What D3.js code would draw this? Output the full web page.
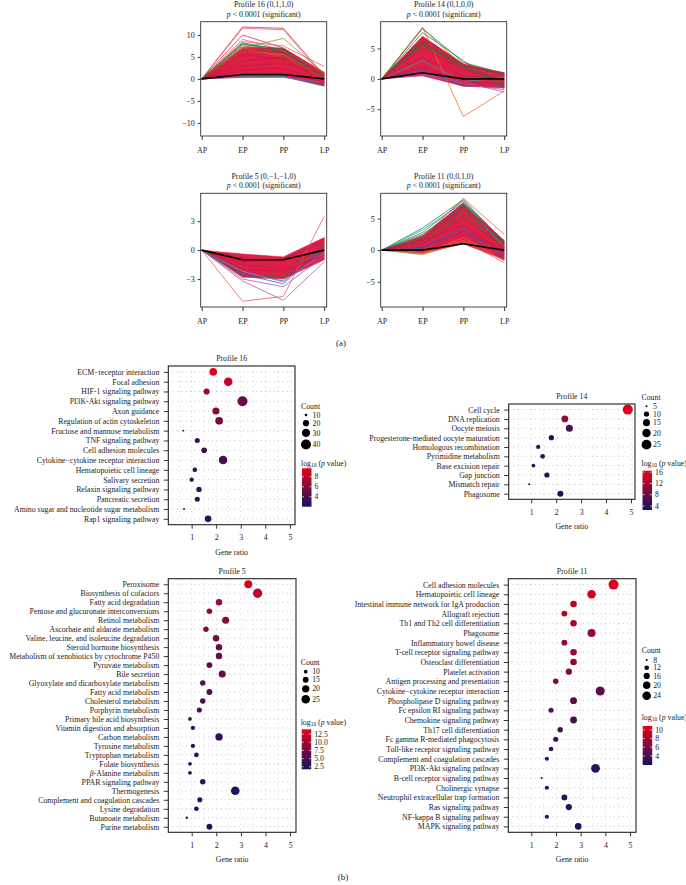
<!DOCTYPE html>
<html><head><meta charset="utf-8">
<script src="https://cdn.jsdelivr.net/npm/d3@7"></script>
<style>
body{margin:0;background:#fff}
svg{display:block}
text{font-family:"Liberation Serif","Times New Roman",serif;fill:#1a1a1a}
</style>
</head><body>
<svg id="c" width="686" height="885"></svg>
<script>
// ================= DATA =================
const stages = ["AP","EP","PP","LP"];

// ---- (a) expression profiles: red envelope, individual lines, model profile ----
const p16Upper = [0, 7.2, 7.0, 1.5];
const p16Lower = [0, 0.3, 0.5, -1.6];
const p16Mean  = [0, 1, 1, 0];
const p16Lines = [
  [0,11.8,11.5,0.8],[0,11.5,11.2,0.3],[0,10.0,7.0,1.2],[0,9.0,6.5,0.5],[0,8.5,7.5,2.8],
  [0,7.5,6.0,1.0],[0,7.0,9.2,1.2],[0,6.5,5.5,0.3],[0,8.2,6.5,0.5],[0,7.8,6.8,0.2],
  [0,8.0,6.0,-0.2],[0,7.0,5.0,0.0],[0,0.5,0.5,-1.7],[0,0.8,0.6,-1.4],[0,0.4,0.3,-0.8],
  [0,6.5,6.0,0.8],[0,5.5,4.5,-0.5],[0,4.0,5.0,0.3],[0,3.0,3.5,1.0],[0,2.0,2.5,-1.0]
];
const p16LineColors = ["red","pink","red","pink","pink","red","olive","olive","green","green",
  "green","brown","teal","blue","purple","red2","red2","red2","red2","red2"];

const p14Upper = [0, 7.0, 2.5, 1.0];
const p14Lower = [0, 0.5, -1.2, -1.5];
const p14Mean  = [0, 1, 0, 0];
const p14Lines = [
  [0,8.5,-6.2,-2.0],[0,8.3,2.7,0.8],[0,7.6,3.0,-1.6],[0,6.2,2.2,-1.2],[0,5.8,1.8,-0.5],
  [0,5.5,2.0,1.0],[0,8.3,2.0,0.5],[0,0.8,-0.5,-2.2],[0,0.6,-0.8,-1.8],[0,1.5,-1.2,-1.0],
  [0,3.0,-0.5,0.3],[0,6.8,2.3,0.5],[0,5.0,1.5,-0.2],[0,3.5,0.5,0.0],[0,2.0,-0.5,-0.8],[0,6.0,2.0,0.8]
];
const p14LineColors = ["orange","green","green","green","green","green","brown","purple","purple","blue",
  "teal","red2","red2","red2","red2","red2"];

const p5Upper = [0, -0.4, -0.7, 1.3];
const p5Lower = [0, -2.8, -3.0, -1.0];
const p5Mean  = [0, -1, -1, 0];
const p5Lines = [
  [0,-5.3,-4.8,3.5],[0,-3.2,-5.2,-1.2],[0,-2.5,-3.5,0.5],[0,-2.3,-3.2,0.0],[0,-3.0,-3.8,-0.6],
  [0,-2.6,-2.8,0.8],[0,-2.2,-3.3,-0.3],[0,-1.5,-2.0,0.5],[0,-0.8,-1.2,1.2],[0,-2.0,-2.2,-0.5],[0,-1.2,-0.9,0.9]
];
const p5LineColors = ["pink","purple","blue","blue","purple","green","lavender","red2","red2","red2","red2"];

const p11Upper = [0, 2.3, 7.5, 1.5];
const p11Lower = [0, -0.5, 1.0, -1.5];
const p11Mean  = [0, 0, 1, 0];
const p11Lines = [
  [0,2.0,8.2,2.5],[0,3.5,8.0,1.3],[0,2.8,7.8,1.0],[0,2.5,7.0,0.8],[0,2.0,6.3,1.2],
  [0,1.5,5.5,0.5],[0,3.2,7.5,0.5],[0,-0.3,1.5,-2.0],[0,-0.6,2.0,-1.7],[0,0.5,3.5,-1.2],
  [0,0.3,3.0,-0.9],[0,-0.7,1.2,0.0],[0,1.8,6.8,1.5],[0,1.0,5.0,0.5],[0,0.5,3.0,0.0],[0,1.5,4.0,-0.5]
];
const p11LineColors = ["pink","green","green","green","green","green","teal","orange","orange","blue",
  "blue","olive","red2","red2","red2","red2"];

// ---- (b) KEGG enrichment: pathway, gene ratio, count, log10(p value) ----
const p16Names = ["ECM\u2212receptor interaction","Focal adhesion","HIF-1 signaling pathway","PI3K-Akt signaling pathway",
  "Axon guidance","Regulation of actin cytoskeleton","Fructose and mannose metabolism","TNF signaling pathway",
  "Cell adhesion molecules","Cytokine\u2212cytokine receptor interaction","Hematopoietic cell lineage","Salivary secretion",
  "Relaxin signaling pathway","Pancreatic secretion","Amino sugar and nucleotide sugar metabolism","Rap1 signaling pathway"];
const p16Ratio = [1.88,2.49,1.61,3.07,1.99,2.12,0.66,1.23,1.51,2.28,1.13,1.00,1.30,1.23,0.69,1.67];
const p16Count = [26,31,20,40,24,27,9,16,18,31,15,14,17,16,9,22];
const p16LogP  = [9.5,8.6,7.0,5.0,6.0,5.6,3.0,3.4,3.5,3.9,3.3,3.0,3.1,3.0,2.6,2.9];

const p14Names = ["Cell cycle","DNA replication","Oocyte meiosis","Progesterone-mediated oocyte maturation",
  "Homologous recombination","Pyrimidine metabolism","Base excision repair","Gap junction","Mismatch repair","Phagosome"];
const p14Ratio = [4.87,2.35,2.53,1.81,1.28,1.46,1.09,1.63,0.92,2.17];
const p14Count = [26,14,15,10,8,9,7,10,5,12];
const p14LogP  = [16.2,11.5,6.0,4.0,3.8,3.6,3.5,3.4,3.2,3.0];

const p5Names = ["Peroxisome","Biosynthesis of cofactors","Fatty acid degradation","Pentose and glucuronate interconversions",
  "Retinol metabolism","Ascorbate and aldarate metabolism","Valine, leucine, and isoleucine degradation",
  "Steroid hormone biosynthesis","Metabolism of xenobiotics by cytochrome P450","Pyruvate metabolism","Bile secretion",
  "Glyoxylate and dicarboxylate metabolism","Fatty acid metabolism","Cholesterol metabolism","Porphyrin metabolism",
  "Primary bile acid biosynthesis","Vitamin digestion and absorption","Carbon metabolism","Tyrosine metabolism",
  "Tryptophan metabolism","Folate biosynthesis","\u03b2-Alanine metabolism","PPAR signaling pathway","Thermogenesis",
  "Complement and coagulation cascades","Lysine degradation","Butanoate metabolism","Purine metabolism"];
const p5Ratio = [3.30,3.68,2.11,1.72,2.38,1.58,1.99,2.11,2.11,1.72,2.24,1.45,1.72,1.45,1.31,
  0.93,1.05,2.11,1.05,1.19,0.93,0.93,1.45,2.77,1.33,1.19,0.80,1.72];
const p5Count = [22,28,17,14,19,14,17,17,17,15,19,14,15,14,13,10,11,20,11,12,10,10,14,25,13,12,8,15];
const p5LogP  = [13.2,11.5,10.3,9.0,8.4,8.2,7.3,6.8,6.6,6.2,6.0,5.6,5.5,5.0,4.6,3.8,3.6,3.5,3.2,3.1,3.0,3.0,
  2.6,2.5,2.5,2.4,2.3,2.3];

const p11Names = ["Cell adhesion molecules","Hematopoietic cell lineage","Intestinal immune network for IgA production",
  "Allograft rejection","Th1 and Th2 cell differentiation","Phagosome","Inflammatory bowel disease",
  "T-cell receptor signaling pathway","Osteoclast differentiation","Platelet activation","Antigen processing and presentation",
  "Cytokine\u2212cytokine receptor interaction","Phospholipase D signaling pathway","Fc epsilon RI signaling pathway",
  "Chemokine signaling pathway","Th17 cell differentiation","Fc gamma R-mediated phagocytosis",
  "Toll-like receptor signaling pathway","Complement and coagulation cascades","PI3K-Akt signaling pathway",
  "B-cell receptor signaling pathway","Cholinergic synapse","Neutrophil extracellular trap formation",
  "Ras signaling pathway","NF-kappa B signaling pathway","MAPK signaling pathway"];
const p11Ratio = [4.33,3.44,2.71,2.34,2.71,3.44,2.34,2.71,2.71,2.52,1.99,3.79,2.71,1.80,2.71,2.17,1.99,1.80,
  1.63,3.60,1.42,1.63,2.34,2.52,1.63,2.90];
const p11Count = [30,24,17,15,17,22,15,17,17,16,14,26,18,13,18,14,13,12,11,25,8,11,15,16,11,17];
const p11LogP  = [10.6,10.0,9.0,8.6,8.2,7.6,7.5,7.4,7.1,6.6,6.0,5.0,4.7,4.5,4.1,4.0,3.6,3.5,3.1,3.0,3.0,3.0,
  2.9,2.6,2.6,2.5];

// ================= DRAWING =================
const palette = {red:"#e8203f", pink:"#f0506e", red2:"#c8173e", olive:"#9a8a1e", green:"#1f7a3a",
  brown:"#b06a2a", teal:"#2aa3a0", blue:"#2f5fb5", purple:"#9a56b0", orange:"#e86a30", lavender:"#8f86d0"};
const BAND = "#de2049";
const LOW = "#131363", HIGH = "#e8001a";
const TXT = "#1a1a1a";
const FS = 7.8;
const svg = d3.select("#c");
const defs = svg.append("defs");
const fmtMinus = d => d < 0 ? "\u2212" + Math.abs(d) : String(d);

function styleAxis(a, size){
  a.attr("font-family", null).attr("font-size", null);
  a.select(".domain").remove();
  a.selectAll("line").attr("stroke", "#333");
  a.selectAll("text").attr("font-size", size).attr("fill", TXT);
}

function lineChart(c){
  const g = svg.append("g");
  const x = d3.scalePoint().domain(stages).range([c.x0 + 1, c.x1 - 2.5]);
  const y = d3.scaleLinear().domain(c.yDomain).range([c.y1, c.y0]);
  const cx = (c.x0 + c.x1) / 2;
  g.append("text").attr("x", cx).attr("y", c.y0 - 14.5).attr("text-anchor","middle")
    .attr("font-size", FS).text(c.title);
  const t = g.append("text").attr("x", cx).attr("y", c.y0 - 5.2).attr("text-anchor","middle").attr("font-size", FS);
  t.append("tspan").attr("font-style","italic").text("p");
  t.append("tspan").text(" < 0.0001 (significant)");

  const clipId = "clip" + c.id;
  defs.append("clipPath").attr("id", clipId).append("rect")
    .attr("x", c.x0).attr("y", c.y0).attr("width", c.x1 - c.x0).attr("height", c.y1 - c.y0);
  const pg = g.append("g").attr("clip-path", `url(#${clipId})`);
  const area = d3.area().x((d,i) => x(stages[i])).y0((d,i) => y(c.lower[i])).y1(d => y(d));
  pg.append("path").datum(c.upper).attr("d", area).attr("fill", BAND).attr("stroke", BAND).attr("stroke-width", 0.6);
  const line = d3.line().x((d,i) => x(stages[i])).y(d => y(d));
  c.lines.forEach((v, i) => {
    pg.append("path").datum(v).attr("d", line).attr("fill","none")
      .attr("stroke", palette[c.colors[i]]).attr("stroke-width", 0.8).attr("opacity", 0.95);
  });
  pg.append("path").datum(c.mean).attr("d", line).attr("fill","none").attr("stroke","#000").attr("stroke-width",1.6);

  g.append("rect").attr("x", c.x0).attr("y", c.y0).attr("width", c.x1 - c.x0).attr("height", c.y1 - c.y0)
    .attr("fill","none").attr("stroke","#333").attr("stroke-width",0.9);

  const ya = g.append("g").attr("transform", `translate(${c.x0},0)`)
    .call(d3.axisLeft(y).tickValues(c.ticks).tickSize(3).tickPadding(3).tickFormat(fmtMinus));
  styleAxis(ya, 8);
  const xa = g.append("g").attr("transform", `translate(0,${c.y1})`)
    .call(d3.axisBottom(x).tickSize(4).tickPadding(7));
  styleAxis(xa, 8);
}

function dotPlot(c){
  const g = svg.append("g");
  const x = d3.scaleLinear().domain(c.xDomain).range([c.x0, c.x1]);
  const y = d3.scalePoint().domain(c.names).range([c.y0, c.y1]).padding(c.pad);
  const area = d3.scaleLinear().domain(c.sizeDomain).range(c.areaRange);
  const r = v => Math.max(0.5, Math.sqrt(Math.max(0, area(v))));
  const col = d3.scaleLinear().domain(c.cDomain).range([LOW, HIGH]).interpolate(d3.interpolateRgb).clamp(true);

  // grid (dotted)
  const gg = g.append("g").attr("stroke","#9a9a9a").attr("stroke-width",0.7);
  d3.range(0.5, 5.26, 0.5).forEach(v => {
    if (x(v) > c.x0 + 1 && x(v) < c.x1 - 1)
      gg.append("line").attr("x1", x(v)).attr("x2", x(v)).attr("y1", c.y0).attr("y2", c.y1)
        .attr("stroke-dasharray","0.8,4.2").attr("stroke", "#b5b5b5");
  });
  c.names.forEach(n => {
    gg.append("line").attr("x1", c.x0).attr("x2", c.x1).attr("y1", y(n)).attr("y2", y(n))
      .attr("stroke-dasharray","0.8,3.6");
  });

  // dots
  c.names.forEach((n, i) => {
    g.append("circle").attr("cx", x(c.ratio[i])).attr("cy", y(n)).attr("r", r(c.count[i]))
      .attr("fill", col(c.logp[i]));
  });

  // frame
  g.append("rect").attr("x", c.x0).attr("y", c.y0).attr("width", c.x1 - c.x0).attr("height", c.y1 - c.y0)
    .attr("fill","none").attr("stroke","#222").attr("stroke-width",1.1);

  // y axis
  const ya = g.append("g").attr("transform", `translate(${c.x0},0)`)
    .call(d3.axisLeft(y).tickSize(4.5).tickPadding(4.5));
  styleAxis(ya, FS);
  ya.selectAll("text").each(function(d){
    if (d.startsWith("\u03b2")) {
      const s = d3.select(this); s.text(null);
      s.append("tspan").attr("font-style","italic").text("\u03b2");
      s.append("tspan").text(d.slice(1));
    }
  });

  // x axis
  const xa = g.append("g").attr("transform", `translate(0,${c.y1})`)
    .call(d3.axisBottom(x).tickValues([1,2,3,4,5]).tickSize(4).tickPadding(6).tickFormat(d3.format("d")));
  styleAxis(xa, FS);

  g.append("text").attr("x", (c.x0 + c.x1) / 2).attr("y", c.y1 + 30).attr("text-anchor","middle")
    .attr("font-size", FS).text("Gene ratio");
  g.append("text").attr("x", (c.x0 + c.x1) / 2).attr("y", c.y0 - 5).attr("text-anchor","middle")
    .attr("font-size", FS).text(c.title);

  // size legend
  const L = c.leg;
  g.append("text").attr("x", L.x).attr("y", L.countY).attr("font-size", FS).text("Count");
  let cy = L.firstY, prevH = null;
  c.sizeBreaks.forEach(v => {
    const rr = r(v), h = Math.max(7.7, 2 * rr + 2.5);
    if (prevH !== null) cy += (prevH + h) / 2;
    prevH = h;
    g.append("circle").attr("cx", L.x + 5).attr("cy", cy).attr("r", rr).attr("fill","#000");
    g.append("text").attr("x", L.x + 11.5).attr("y", cy).attr("dy","0.34em").attr("font-size", FS).text(v);
  });

  // colour legend
  const ct = g.append("text").attr("x", L.x).attr("y", L.colY).attr("font-size", FS);
  ct.append("tspan").text("log");
  ct.append("tspan").attr("font-size", 5.5).attr("dy", 1.8).text("10");
  ct.append("tspan").attr("dy", -1.8).text(" (");
  ct.append("tspan").attr("font-style","italic").text("p");
  ct.append("tspan").text(" value)");

  const gid = "grad" + c.id;
  const grad = defs.append("linearGradient").attr("id", gid).attr("x1",0).attr("y1",1).attr("x2",0).attr("y2",0);
  d3.range(0, 1.0001, 0.1).forEach(t => {
    grad.append("stop").attr("offset", t).attr("stop-color", col(c.cDomain[0] + t * (c.cDomain[1] - c.cDomain[0])));
  });
  const bx = L.x + 1, bw = 9.5;
  g.append("rect").attr("x", bx).attr("y", L.barY0).attr("width", bw).attr("height", L.barY1 - L.barY0)
    .attr("fill", `url(#${gid})`);
  const cb = d3.scaleLinear().domain(c.cDomain).range([L.barY1, L.barY0]);
  c.colBreaks.forEach(v => {
    g.append("line").attr("x1", bx).attr("x2", bx + 2).attr("y1", cb(v)).attr("y2", cb(v)).attr("stroke","#fff").attr("stroke-width",0.7);
    g.append("line").attr("x1", bx + bw - 2).attr("x2", bx + bw).attr("y1", cb(v)).attr("y2", cb(v)).attr("stroke","#fff").attr("stroke-width",0.7);
    g.append("text").attr("x", bx + bw + 3).attr("y", cb(v)).attr("dy","0.34em").attr("font-size", FS)
      .text(c.colFmt(v));
  });
}

// ---- (a) ----
lineChart({id:16, title:"Profile 16 (0,1,1,0)", x0:200.7, x1:326.7, y0:21.7, y1:136, yDomain:[-13,13],
  ticks:[-10,-5,0,5,10], upper:p16Upper, lower:p16Lower, mean:p16Mean, lines:p16Lines, colors:p16LineColors});
lineChart({id:14, title:"Profile 14 (0,1,0,0)", x0:380.7, x1:506.7, y0:21.7, y1:136, yDomain:[-9.4,9.4],
  ticks:[-5,0,5], upper:p14Upper, lower:p14Lower, mean:p14Mean, lines:p14Lines, colors:p14LineColors});
lineChart({id:5, title:"Profile 5 (0,\u22121,\u22121,0)", x0:200.7, x1:326.7, y0:193.3, y1:307, yDomain:[-5.9,5.9],
  ticks:[-3,0,3], upper:p5Upper, lower:p5Lower, mean:p5Mean, lines:p5Lines, colors:p5LineColors});
lineChart({id:11, title:"Profile 11 (0,0,1,0)", x0:380.7, x1:506.7, y0:193.3, y1:307, yDomain:[-9,9],
  ticks:[-5,0,5], upper:p11Upper, lower:p11Lower, mean:p11Mean, lines:p11Lines, colors:p11LineColors});

svg.append("text").attr("x", 341).attr("y", 346).attr("text-anchor","middle").attr("font-size", 9).text("(a)");

// ---- (b) ----
const fmtInt = d3.format("d"), fmt1 = d3.format(".1f");
dotPlot({id:"d16", title:"Profile 16", names:p16Names, ratio:p16Ratio, count:p16Count, logp:p16LogP,
  x0:168.3, x1:295, y0:366, y1:524.7, pad:0.6, xDomain:[0.049,5.21],
  sizeDomain:[7.8,40], areaRange:[0,25], sizeBreaks:[10,20,30,40],
  cDomain:[2,9.7], colBreaks:[4,6,8], colFmt:fmtInt,
  leg:{x:301, countY:408.5, firstY:415, colY:465.5, barY0:468.3, barY1:506.7}});
dotPlot({id:"d14", title:"Profile 14", names:p14Names, ratio:p14Ratio, count:p14Count, logp:p14LogP,
  x0:508.7, x1:635, y0:404, y1:499.3, pad:0.6, xDomain:[0.099,5.16],
  sizeDomain:[4.1,25], areaRange:[0,24], sizeBreaks:[5,10,15,20,25],
  cDomain:[2.6,16.5], colBreaks:[4,8,12,16], colFmt:fmtInt,
  leg:{x:641.5, countY:400, firstY:406.3, colY:465.5, barY0:470.7, barY1:510}});
dotPlot({id:"d5", title:"Profile 5", names:p5Names, ratio:p5Ratio, count:p5Count, logp:p5LogP,
  x0:168.3, x1:296, y0:578.7, y1:832.3, pad:0.62, xDomain:[0.049,5.24],
  sizeDomain:[6.5,25], areaRange:[0,18.5], sizeBreaks:[10,15,20,25],
  cDomain:[1.7,14], colBreaks:[2.5,5,7.5,10,12.5], colFmt:fmt1,
  leg:{x:300.7, countY:664.7, firstY:671.7, colY:724.5, barY0:729.3, barY1:769.3}});
dotPlot({id:"d11", title:"Profile 11", names:p11Names, ratio:p11Ratio, count:p11Count, logp:p11LogP,
  x0:508.3, x1:636, y0:578.7, y1:832.3, pad:0.61, xDomain:[0.068,5.24],
  sizeDomain:[7.1,24], areaRange:[0,18.4], sizeBreaks:[8,12,16,20,24],
  cDomain:[1.9,10.9], colBreaks:[4,6,8,10], colFmt:fmtInt,
  leg:{x:641.7, countY:653.4, firstY:660, colY:719.5, barY0:726, barY1:765}});

svg.append("text").attr("x", 343).attr("y", 880).attr("text-anchor","middle").attr("font-size", 9).text("(b)");
</script>
</body></html>
